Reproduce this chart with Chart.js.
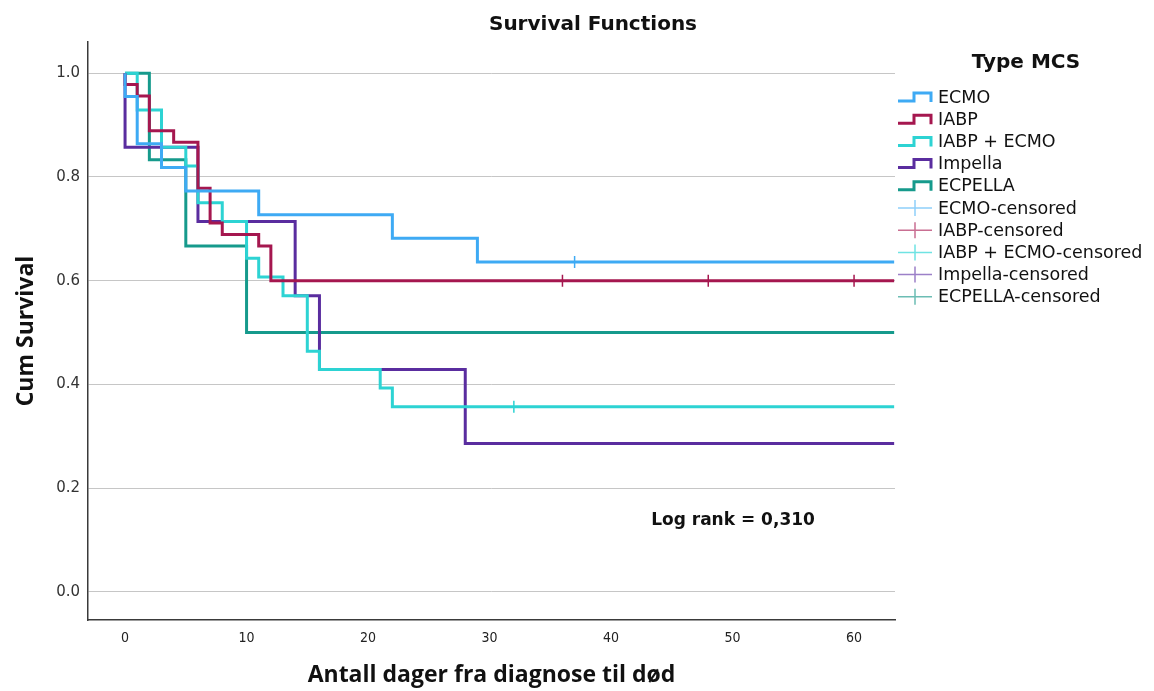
<!DOCTYPE html>
<html>
<head>
<meta charset="utf-8">
<title>Survival Functions</title>
<script src="https://cdn.jsdelivr.net/npm/chart.js@4.4.1/dist/chart.umd.min.js"></script>
<style>
    body { margin: 0; background: #ffffff; }
    #survivalChart { display: block; }
</style>
</head>
<body>
<canvas id="survivalChart" width="1154" height="691"></canvas>
<script>
const groupNames = ['ECMO', 'IABP', 'IABP + ECMO', 'Impella', 'ECPELLA'];
const groupColors = ['#3eaaf4', '#a5174f', '#2dd3d3', '#5a2d9f', '#169a8c'];
const censorColors = ['#8fcffa', '#c96f92', '#6fe3e3', '#9c80c8', '#6cbdb4'];

// Kaplan-Meier steps: time of each drop and survival after it
const ecmoTimes = [0, 0, 1, 3, 5, 11, 22, 29, 63.3];
const ecmoSurvival = [1, 0.955, 0.864, 0.818, 0.773, 0.727, 0.682, 0.636, 0.636];
const iabpTimes = [0, 0, 1, 2, 4, 6, 7, 8, 11, 12, 63.3];
const iabpSurvival = [1, 0.978, 0.956, 0.889, 0.867, 0.778, 0.711, 0.689, 0.667, 0.6, 0.6];
const iabpEcmoTimes = [0, 1, 3, 5, 6, 8, 10, 11, 13, 15, 16, 21, 22, 63.3];
const iabpEcmoSurvival = [1, 0.929, 0.857, 0.821, 0.75, 0.714, 0.643, 0.607, 0.571, 0.464, 0.429, 0.393, 0.357, 0.357];
const impellaTimes = [0, 0, 6, 14, 16, 28, 63.3];
const impellaSurvival = [1, 0.857, 0.714, 0.571, 0.429, 0.286, 0.286];
const ecpellaTimes = [0, 2, 5, 10, 63.3];
const ecpellaSurvival = [1, 0.833, 0.667, 0.5, 0.5];

// censored cases
const ecmoCensored = [37];
const iabpCensored = [36, 48, 60];
const iabpEcmoCensored = [32];
const impellaCensored = [];
const ecpellaCensored = [];

const xTicks = [0, 10, 20, 30, 40, 50, 60];
const yTicks = [0, 0.2, 0.4, 0.6, 0.8, 1.0];
const chartTitle = 'Survival Functions';
const legendTitle = 'Type MCS';
const logRankText = 'Log rank = 0,310';

const curveTimes = [ecmoTimes, iabpTimes, iabpEcmoTimes, impellaTimes, ecpellaTimes];
const curveSurvival = [ecmoSurvival, iabpSurvival, iabpEcmoSurvival, impellaSurvival, ecpellaSurvival];
const censoredTimes = [ecmoCensored, iabpCensored, iabpEcmoCensored, impellaCensored, ecpellaCensored];

function survivalAt(groupIndex, t) {
    const times = curveTimes[groupIndex];
    const surv = curveSurvival[groupIndex];
    let value = surv[0];
    for (let i = 0; i < times.length; i++) {
        if (times[i] <= t) value = surv[i];
    }
    return value;
}

const datasets = [];
groupNames.forEach((name, i) => {
    datasets.push({
        type: 'line',
        label: name,
        data: curveTimes[i].map((t, j) => ({ x: t, y: curveSurvival[i][j] })),
        borderColor: groupColors[i],
        borderWidth: 3,
        stepped: true,
        pointRadius: 0,
        fill: false
    });
});
groupNames.forEach((name, i) => {
    datasets.push({
        type: 'scatter',
        label: name + '-censored',
        data: censoredTimes[i].map(t => ({ x: t, y: survivalAt(i, t) })),
        borderColor: groupColors[i],
        backgroundColor: groupColors[i],
        pointStyle: 'cross',
        pointRadius: 6,
        borderWidth: 1.5,
        showLine: false
    });
});

// title, legend and log rank note drawn on top of the chart
const legendPlugin = {
    id: 'mcsLegend',
    afterDraw(chart) {
        const ctx = chart.ctx;
        const x0 = 898;
        ctx.save();
        ctx.fillStyle = '#111';
        ctx.textAlign = 'center';
        ctx.textBaseline = 'middle';
        ctx.font = 'bold 20px "DejaVu Sans", sans-serif';
        ctx.fillText(chartTitle, 593, 25);

        ctx.font = 'bold 20px "DejaVu Sans", sans-serif';
        ctx.fillText(legendTitle, 1026, 63);

        ctx.font = '17.5px "DejaVu Sans", sans-serif';
        ctx.textAlign = 'left';
        groupNames.forEach((name, i) => {
            const y = 97 + i * 22.2;
            ctx.strokeStyle = groupColors[i];
            ctx.lineWidth = 3;
            ctx.beginPath();
            ctx.moveTo(x0, y + 4);
            ctx.lineTo(x0 + 16, y + 4);
            ctx.lineTo(x0 + 16, y - 4);
            ctx.lineTo(x0 + 33, y - 4);
            ctx.lineTo(x0 + 33, y + 5);
            ctx.stroke();
            ctx.fillStyle = '#111';
            ctx.fillText(name, 938, y + 1);
        });
        groupNames.forEach((name, i) => {
            const y = 97 + (i + 5) * 22.2;
            ctx.strokeStyle = censorColors[i];
            ctx.lineWidth = 1.5;
            ctx.beginPath();
            ctx.moveTo(x0, y);
            ctx.lineTo(x0 + 34, y);
            ctx.moveTo(x0 + 17, y - 8);
            ctx.lineTo(x0 + 17, y + 8);
            ctx.stroke();
            ctx.fillStyle = '#111';
            ctx.fillText(name + '-censored', 938, y + 1);
        });

        const xs = chart.scales.x;
        const ys = chart.scales.y;
        ctx.font = 'bold 17px "DejaVu Sans", sans-serif';
        ctx.fillStyle = '#111';
        ctx.fillText(logRankText, xs.getPixelForValue(43.3), ys.getPixelForValue(0.137));
        ctx.restore();
    }
};

const survivalctx = document.getElementById('survivalChart').getContext('2d');
let survivalChart = new Chart(survivalctx, {
    type: 'line',
    data: { datasets: datasets },
    options: {
        responsive: false,
        animation: false,
        devicePixelRatio: 1,
        layout: { padding: { left: 0, right: 259, top: 42, bottom: 0 } },
        plugins: {
            legend: { display: false },
            tooltip: { enabled: false },
            title: { display: false }
        },
        scales: {
            x: {
                type: 'linear',
                min: -3.05,
                max: 63.37,
                afterBuildTicks: scale => { scale.ticks = xTicks.map(v => ({ value: v })); },
                afterFit: scale => { scale.height = 71; },
                grid: { display: false, drawTicks: false },
                border: { display: true, color: '#3a3a3a', width: 1.5 },
                ticks: {
                    color: '#222',
                    padding: 10,
                    maxRotation: 0,
                    font: { family: '"Liberation Sans Narrow", "DejaVu Sans Condensed", "Liberation Sans", sans-serif', size: 14 },
                    callback: v => String(v)
                },
                title: {
                    display: true,
                    text: 'Antall dager fra diagnose til død',
                    color: '#111',
                    font: { family: '"Open Sans", sans-serif', size: 23, weight: 'bold' },
                    padding: { top: 4, bottom: 2 }
                }
            },
            y: {
                type: 'linear',
                min: -0.054,
                max: 1.06,
                afterBuildTicks: scale => { scale.ticks = yTicks.map(v => ({ value: v })); },
                afterFit: scale => { scale.width = 88; },
                grid: { color: '#c6c6c6', lineWidth: 1, drawTicks: false },
                border: { display: true, color: '#3a3a3a', width: 1.5 },
                ticks: {
                    color: '#333',
                    padding: 8,
                    font: { family: '"DejaVu Sans", sans-serif', size: 15 },
                    callback: v => v.toFixed(1)
                },
                title: {
                    display: true,
                    text: 'Cum Survival',
                    color: '#111',
                    font: { family: '"Open Sans", sans-serif', size: 23, weight: 'bold' },
                    padding: { top: 13, bottom: 0 }
                }
            }
        }
    },
    plugins: [legendPlugin]
});
</script>
</body>
</html>
